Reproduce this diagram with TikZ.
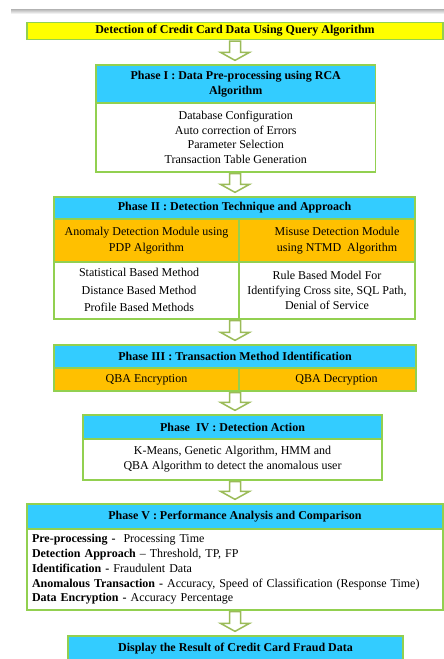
\documentclass[tikz,border=0pt]{standalone}
\usepackage{fontspec}
\setmainfont{Liberation Serif}
\usetikzlibrary{calc}
\definecolor{hdrblue}{HTML}{33CCFF}
\definecolor{orng}{HTML}{FFC000}
\definecolor{yel}{HTML}{FFFF00}
\definecolor{bord}{HTML}{92D050}
\definecolor{arrc}{HTML}{9BBB59}
\tikzset{
  cell/.style={draw=bord, line width=1.3pt, inner sep=0pt, align=center,
    font=\fontsize{12}{14.6}\selectfont, text=black},
  hdr/.style={cell, fill=hdrblue, font=\bfseries\fontsize{12}{15}\selectfont},
  orangecell/.style={cell, fill=orng, font=\fontsize{12}{16.5}\selectfont},
  bodycell/.style={cell, fill=white},
  titlecell/.style={cell, fill=yel, font=\bfseries\fontsize{12}{14}\selectfont},
  blk/.style={draw=arrc, fill=white, line width=1.5pt, line join=miter},
}
% #1 = start anchor, #2 = end anchor, #3 = x of the arrow axis
\newcommand\blkarrow[3]{%
  \draw[blk] let \p1=(#1), \p2=(#2), \p3=(#3,0) in
    (\x3-5.5pt,\y1-1pt) -- (\x3-5.5pt,\y2+12pt) -- (\x3-14.5pt,\y2+12pt)
    -- (\x3,\y2+4pt) -- (\x3+14.5pt,\y2+12pt) -- (\x3+5.5pt,\y2+12pt)
    -- (\x3+5.5pt,\y1-1pt) -- cycle;}
\begin{document}
\begin{tikzpicture}[x=1pt,y=-1pt]
\useasboundingbox (0,0) rectangle (444,659);
\fill[white] (0,0) rectangle (444,659);
\shade[top color=black!30, bottom color=white] (11,9) rectangle (444,14);

% title
\node[titlecell, minimum width=416, minimum height=17] (title) at (235,31)
  {Detection of Credit Card Data Using Query Algorithm};

% Phase I
\node[hdr, minimum width=279.5, minimum height=38] (p1h) at (235.75,84)
  {Phase I : Data Pre-processing using RCA\\Algorithm};
\node[bodycell, minimum width=279.5, minimum height=69] (p1b) at (235.75,137.5)
  {Database Configuration\\Auto correction of Errors\\Parameter Selection\\Transaction Table Generation};

% Phase II
\node[hdr, minimum width=361, minimum height=22] (p2h) at (234.5,208)
  {Phase II : Detection Technique and Approach};
\node[orangecell, minimum width=185, minimum height=43] (p2ol) at (146.5,240.5)
  {Anomaly Detection Module using\\PDP Algorithm};
\node[orangecell, minimum width=176, minimum height=43] (p2or) at (327,240.5)
  {\hspace*{20pt}Misuse Detection Module\\\hspace*{20pt}using NTMD\ \ Algorithm};
\node[bodycell, minimum width=185, minimum height=57, font=\fontsize{12}{17.5}\selectfont] (p2bl) at (146.5,290.5)
  {\begin{tabular}{@{}c@{}}Statistical Based Method\\Distance Based Method\\Profile Based Methods\end{tabular}\kern15pt};
\node[bodycell, minimum width=176, minimum height=57, font=\fontsize{12}{15}\selectfont] (p2br) at (327,290.5)
  {Rule Based Model For\\Identifying Cross site, SQL Path,\\Denial of Service};

% Phase III
\node[hdr, minimum width=362, minimum height=23] (p3h) at (235,356.5)
  {Phase III : Transaction Method Identification};
\node[orangecell, minimum width=185, minimum height=23] (p3l) at (146.5,379.5)
  {QBA Encryption};
\node[orangecell, minimum width=177, minimum height=23] (p3r) at (327.5,379.5)
  {\hspace*{18pt}QBA Decryption};

% Phase IV
\node[hdr, minimum width=299, minimum height=24] (p4h) at (232.5,427)
  {Phase\ \ IV : Detection Action};
\node[bodycell, minimum width=299, minimum height=41, font=\fontsize{12}{15}\selectfont] (p4b) at (232.5,459.5)
  {K-Means, Genetic Algorithm, HMM and\\QBA Algorithm to detect the anomalous user};

% Phase V
\node[hdr, minimum width=416, minimum height=25] (p5h) at (235,516.5)
  {Phase V : Performance Analysis and Comparison};
\node[bodycell, minimum width=416, minimum height=81, align=left, text width=406,
  inner xsep=5pt, font=\fontsize{12}{14.7}\selectfont] (p5b) at (235,569.5)
  {\textbf{Pre-processing -}\ \ Processing Time\\
   \textbf{Detection Approach} -- Threshold, TP, FP\\
   \textbf{Identification -} Fraudulent Data\\
   \textbf{Anomalous Transaction -} Accuracy, Speed of Classification (Response Time)\\
   \textbf{Data Encryption -} Accuracy Percentage};

% Display
\node[hdr, minimum width=335, minimum height=26] (disp) at (235.5,649)
  {Display the Result of Credit Card Fraud Data};

% arrows
\blkarrow{title.south}{p1h.north}{235}
\blkarrow{p1b.south}{p2h.north}{235}
\blkarrow{p2bl.south east}{p3h.north}{235}
\blkarrow{p3l.south east}{p4h.north}{235}
\blkarrow{p4b.south}{p5h.north}{235}
\blkarrow{p5b.south}{disp.north}{235}
\end{tikzpicture}
\end{document}
